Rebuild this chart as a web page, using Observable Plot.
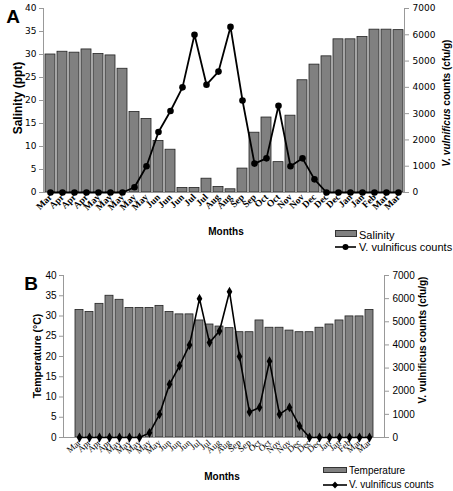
<!DOCTYPE html>
<html><head><meta charset="utf-8">
<script src="https://cdn.jsdelivr.net/npm/d3@7"></script>
<script src="https://cdn.jsdelivr.net/npm/@observablehq/plot@0.6"></script>
<style>
body{margin:0;background:#fff;}
#c{position:relative;width:453px;height:491px;font-family:"Liberation Sans",Arial,sans-serif;color:#000;}
#c svg{position:absolute;left:0;overflow:visible;background:transparent;}
.t{position:absolute;white-space:nowrap;line-height:1;}
</style></head><body><div id="c"></div>
<script>
const months = ["Mar","Apr","Apr","Apr","May","May","May","May","May","Jun","Jun","Jun","Jul","Jul","Aug","Aug","Sep","Sep","Oct","Oct","Nov","Nov","Dec","Dec","Dec","Jan","Jan","Feb","Mar","Mar"];
const salinity = [30,30.6,30.4,31.1,30.1,29.8,26.9,17.5,16,11.2,9.3,1,1,3,1.2,0.7,5.2,13,16.3,6.6,16.7,24.4,27.8,29.6,33.3,33.3,33.8,35.4,35.4,35.3];
const temperature = [31.5,31,33,35,34,32,32,32,32.5,31,30.4,30.4,28.9,27.9,27.4,27,26,26,28.9,27.1,27.1,26.4,26,26,27.1,27.9,28.9,29.9,29.9,31.5];
const counts = [0,0,0,0,0,0,0,200,1000,2300,3100,4000,6000,4100,4600,6300,3500,1100,1300,3300,1000,1300,500,0,0,0,0,0,0,0];
const leftTicks = [0,5,10,15,20,25,30,35,40];
const rightTicks = [0,1000,2000,3000,4000,5000,6000,7000];

const W = 453;
const c = document.getElementById("c");
const idx = months.map((m, i) => i);

function panel(o) {
  const rows = idx.map(i => ({i, v: o.values[i], c: counts[i]}));
  const dims = {width: W, height: o.h, marginTop: o.mt, marginBottom: o.mb, marginLeft: o.ml, marginRight: o.mr};
  const xs = {type: "band", domain: idx, paddingInner: 0.2, paddingOuter: 0.1};
  const bars = Plot.plot({
    ...dims,
    style: {background: "transparent", fontFamily: o.tickFont, fontSize: o.tickSize + "px", color: "#000"},
    x: {...xs, label: null},
    y: {domain: [0, 40], label: null},
    marks: [
      Plot.barY(rows, {x: "i", y: "v", fill: "#808080", stroke: "#222", strokeWidth: 0.8}),
      Plot.axisY({ticks: leftTicks, tickFormat: d => String(d), tickSize: 4, tickPadding: 3, label: null, stroke: "#999"}),
      Plot.axisX({tickFormat: i => months[i], tickRotate: o.rot, tickSize: 0, tickPadding: o.xpad, label: null,
        fontFamily: '"Liberation Serif","Times New Roman",serif', fontWeight: o.xWeight, fontSize: o.xSize}),
      Plot.ruleY([0], {stroke: "#999"}),
      Plot.frame({anchor: "left", stroke: "#999"})
    ]
  });
  const line = Plot.plot({
    ...dims,
    style: {background: "transparent", fontFamily: o.tickFont, fontSize: o.tickSize + "px", color: "#000"},
    x: {...xs, axis: null},
    y: {domain: [0, 7000], label: null},
    marks: [
      Plot.line(rows, {x: "i", y: "c", stroke: "#000", strokeWidth: o.lw}),
      Plot.dot(rows, {x: "i", y: "c", fill: "#000", r: o.r, symbol: o.symbol}),
      Plot.axisY({anchor: "right", ticks: rightTicks, tickFormat: d => String(d), tickSize: 4, tickPadding: 4, label: null, stroke: "#999"}),
      Plot.frame({anchor: "right", stroke: "#999"})
    ]
  });
  bars.style.top = o.top + "px";
  line.style.top = o.top + "px";
  c.appendChild(bars);
  c.appendChild(line);
}

function label(html, x, y, style, rotate) {
  const d = document.createElement("div");
  d.className = "t";
  d.innerHTML = html;
  d.style.left = x + "px";
  d.style.top = y + "px";
  d.style.transform = "translate(-50%,-50%)" + (rotate ? " rotate(-90deg)" : "");
  Object.assign(d.style, style);
  c.appendChild(d);
}
function leftLabel(html, x, y, style) {
  const d = document.createElement("div");
  d.className = "t";
  d.innerHTML = html;
  d.style.left = x + "px";
  d.style.top = y + "px";
  d.style.transform = "translate(0,-50%)";
  Object.assign(d.style, style);
  c.appendChild(d);
}
function swatch(x, y, w, h) {
  const d = document.createElement("div");
  Object.assign(d.style, {position: "absolute", left: x + "px", top: y + "px", width: w + "px", height: h + "px",
    background: "#808080", border: "1px solid #333", boxSizing: "border-box"});
  c.appendChild(d);
}
function lineKey(x, y, w, marker) {
  const s = document.createElementNS("http://www.w3.org/2000/svg", "svg");
  s.setAttribute("width", w); s.setAttribute("height", 10);
  Object.assign(s.style, {position: "absolute", left: x + "px", top: (y - 5) + "px"});
  s.innerHTML = `<line x1="0" x2="${w}" y1="5" y2="5" stroke="#000" stroke-width="1.6"/>` +
    (marker === "circle" ? `<circle cx="${w/2}" cy="5" r="3" fill="#000"/>` :
     `<path d="M${w/2},1.5L${w/2+3.2},5L${w/2},8.5L${w/2-3.2},5Z" fill="#000"/>`);
  c.appendChild(s);
}

// Panel A
panel({values: salinity, top: 0, h: 225, mt: 8, mb: 33, ml: 43, mr: 49,
  tickFont: '"DejaVu Sans",sans-serif', tickSize: 9, rot: -45, xpad: 3, xWeight: "bold", xSize: 9.5,
  lw: 1.8, r: 3.3, symbol: "circle"});
// Panel B
panel({values: temperature, top: 240, h: 230, mt: 35, mb: 33, ml: 63, mr: 69,
  tickFont: '"Liberation Sans",Arial,sans-serif', tickSize: 10, rot: -40, xpad: 4, xWeight: "normal", xSize: 9,
  lw: 1.6, r: 3, symbol: "diamond"});

// Titles, panel A
label("A", 13, 16, {fontWeight: "bold", fontSize: "19px"});
label("Salinity (ppt)", 18, 98, {fontWeight: "bold", fontSize: "12px"}, true);
label("<i>V. vulnificus</i> counts (cfu/g)", 447, 103, {fontWeight: "bold", fontSize: "10px"}, true);
label("Months", 226, 232, {fontWeight: "bold", fontSize: "10px"});
swatch(335, 230, 22, 7);
leftLabel("Salinity", 359, 235, {fontSize: "11px"});
lineKey(335, 247, 21, "circle");
leftLabel("V. vulnificus counts", 359, 247, {fontSize: "11px"});

// Titles, panel B
label("B", 31, 283, {fontWeight: "bold", fontSize: "19px"});
label("Temperature (°C)", 37, 356, {fontWeight: "bold", fontSize: "10.5px"}, true);
label("V. vulnificus counts (cfu/g)", 423, 340, {fontWeight: "bold", fontSize: "10px"}, true);
label("Months", 222, 477, {fontWeight: "bold", fontSize: "10px"});
swatch(323, 467, 24, 6);
leftLabel("Temperature", 349, 471, {fontSize: "10px"});
lineKey(323, 485, 24, "diamond");
leftLabel("V. vulnificus counts", 349, 485, {fontSize: "10px"});
</script></body></html>
